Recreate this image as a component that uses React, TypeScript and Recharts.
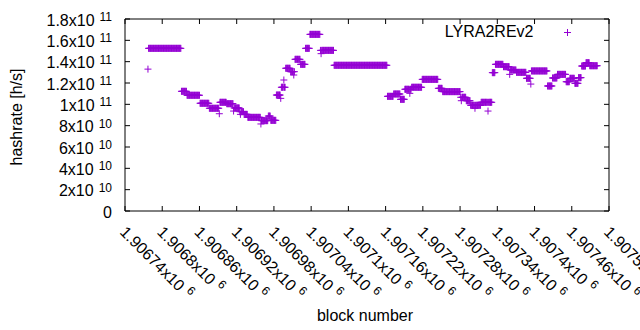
import { ScatterChart, Scatter, XAxis, YAxis, ReferenceArea } from 'recharts';

// block numbers are offsets from this base
const BASE_BLOCK = 1906740;

// runs of consecutive blocks with the same hashrate (units of 1e10 h/s)
const runStart = [37, 38, 91, 100, 121, 136, 153, 164, 176, 185, 192, 198, 220, 231, 235, 244, 252, 259, 267, 274, 283, 291, 298, 315, 337, 423, 433, 444, 451, 462, 479, 505, 512, 541, 550, 557, 574, 586, 592, 597, 610, 621, 631, 647, 655, 681, 689, 697, 711, 717, 725, 731, 736, 743, 749];
const runEnd = [37, 90, 99, 120, 135, 151, 163, 174, 184, 191, 197, 219, 230, 234, 243, 250, 258, 266, 273, 282, 290, 297, 314, 336, 422, 432, 443, 450, 461, 478, 504, 511, 540, 549, 556, 573, 584, 591, 596, 609, 620, 630, 646, 653, 680, 688, 696, 710, 716, 724, 730, 735, 742, 748, 761];
const runValue = [13.3, 15.25, 11.22, 10.85, 10.1, 9.63, 10.19, 10.06, 9.66, 9.31, 9.06, 8.78, 8.47, 8.9, 8.5, 10.87, 11.6, 13.38, 13.06, 14.22, 13.75, 15.25, 16.56, 15.06, 13.66, 10.75, 10.97, 10.47, 11.41, 11.6, 12.34, 11.5, 11.19, 10.66, 10.34, 9.91, 10.19, 10.19, 12.97, 13.75, 13.53, 13.22, 13.0, 12.44, 13.13, 11.72, 12.47, 12.81, 12.12, 12.44, 11.97, 12.5, 13.59, 13.9, 13.62];

// single blocks that stand apart from their run
const oddBlock = [152, 175, 186, 219, 251, 256, 272, 316, 459, 542, 564, 585, 620, 654];
const oddValue = [9.12, 9.37, 9.06, 8.16, 10.56, 12.28, 12.75, 14.75, 11.03, 10.34, 9.63, 9.37, 12.81, 11.9];

const xTicks = [1906740, 1906800, 1906860, 1906920, 1906980, 1907040, 1907100, 1907160, 1907220, 1907280, 1907340, 1907400, 1907460, 1907520];
const xTickLabels = ['1.90674', '1.9068', '1.90686', '1.90692', '1.90698', '1.90704', '1.9071', '1.90716', '1.90722', '1.90728', '1.90734', '1.9074', '1.90746', '1.90752'];
const yTicks = [0, 2e10, 4e10, 6e10, 8e10, 1e11, 1.2e11, 1.4e11, 1.6e11, 1.8e11];
const yTickMantissa = ['0', '2', '4', '6', '8', '1', '1.2', '1.4', '1.6', '1.8'];
const yTickExponent = ['', '10', '10', '10', '10', '11', '11', '11', '11', '11'];

const values = new Map<number, number>();
runStart.forEach((s, i) => {
  for (let b = s; b <= runEnd[i]; b++) values.set(b, runValue[i]);
});
oddBlock.forEach((b, i) => values.set(b, oddValue[i]));
const data = [...values.entries()]
  .sort((a, b) => a[0] - b[0])
  .map(([b, v]) => ({ block: BASE_BLOCK + b, hashrate: v * 1e10 }));

const PURPLE = '#9400d3';
const TOP = 19;
const BOTTOM = 211;
const LEFT = 125;
const RIGHT = 609;
const FONT = '"Liberation Sans", Arial, sans-serif';
const FS = 16;
const SUP = 12;

const Plus = (props: any) => {
  const { cx, cy } = props;
  return <path d={`M${cx - 3.5},${cy}h7M${cx},${cy - 3.5}v7`} stroke={PURPLE} strokeWidth={1} fill="none" />;
};

const XTick = (props: any) => {
  const { x, index } = props;
  return (
    <g>
      <line x1={x} y1={BOTTOM} x2={x} y2={BOTTOM - 5} stroke="#000" />
      <line x1={x} y1={TOP} x2={x} y2={TOP + 5} stroke="#000" />
      <text transform={`translate(${x - 3},${BOTTOM + 19}) rotate(45)`} fontSize={FS} dominantBaseline="middle" fill="#000" fontFamily={FONT}>
        {xTickLabels[index]}x10<tspan dx={5} dy={-5} fontSize={SUP}>6</tspan>
      </text>
    </g>
  );
};

const YTick = (props: any) => {
  const { y, index } = props;
  const exp = yTickExponent[index];
  return (
    <g>
      <line x1={LEFT} y1={y} x2={LEFT + 5} y2={y} stroke="#000" />
      <line x1={RIGHT} y1={y} x2={RIGHT - 5} y2={y} stroke="#000" />
      <text x={112} y={y + 6.5} textAnchor="end" fontSize={FS} fill="#000" fontFamily={FONT}>
        {exp ? `${yTickMantissa[index]}x10` : yTickMantissa[index]}
        {exp && <tspan dx={5} dy={-4.5} fontSize={SUP}>{exp}</tspan>}
      </text>
    </g>
  );
};

export default function App() {
  return (
    <div style={{ position: 'absolute', left: 0, top: 0, width: 640, height: 330, background: '#fff', fontFamily: FONT, overflow: 'hidden' }}>
      <ScatterChart width={640} height={330} margin={{ top: TOP, right: 640 - RIGHT, left: 0, bottom: 0 }}>
        <XAxis
          dataKey="block"
          type="number"
          domain={[xTicks[0], xTicks[xTicks.length - 1]]}
          ticks={xTicks}
          interval={0}
          height={330 - BOTTOM}
          tickLine={false}
          axisLine={false}
          tick={<XTick />}
          label={{
            content: () => (
              <text x={365} y={321} textAnchor="middle" fontSize={FS} fill="#000" fontFamily={FONT}>block number</text>
            ),
          }}
        />
        <YAxis
          dataKey="hashrate"
          type="number"
          domain={[0, 1.8e11]}
          ticks={yTicks}
          interval={0}
          width={LEFT}
          tickLine={false}
          axisLine={false}
          tick={<YTick />}
          label={{
            content: () => (
              <text transform={`translate(22,117) rotate(-90)`} textAnchor="middle" fontSize={FS} fill="#000" fontFamily={FONT}>hashrate [h/s]</text>
            ),
          }}
        />
        <ReferenceArea x1={xTicks[0]} x2={xTicks[xTicks.length - 1]} y1={0} y2={1.8e11} fill="none" stroke="#000" strokeWidth={1} />
        <Scatter data={data} name="LYRA2REv2" shape={<Plus />} isAnimationActive={false} />
      </ScatterChart>
      <div style={{ position: 'absolute', left: 420, top: 23, width: 113.5, textAlign: 'right', fontSize: FS, color: '#000', whiteSpace: 'nowrap' }}>LYRA2REv2</div>
      <svg style={{ position: 'absolute', left: 560, top: 25 }} width={16} height={16}>
        <path d="M4,7.5h7M7.5,4v7" stroke={PURPLE} strokeWidth={1} fill="none" />
      </svg>
    </div>
  );
}
